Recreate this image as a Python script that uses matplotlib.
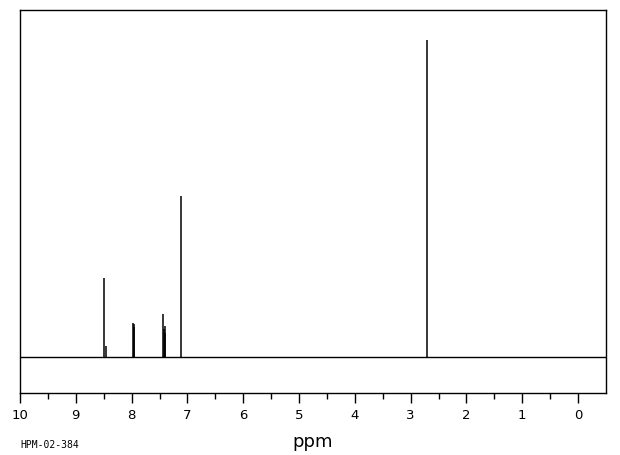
import numpy as np
import matplotlib.pyplot as plt

# peak positions (ppm) and heights (arbitrary units, baseline = 0)
shifts = [8.49, 8.46, 7.975, 7.965, 7.955, 7.43, 7.42, 7.405, 7.395, 7.11, 2.71]
heights = [79, 11, 34, 33, 30, 43, 28, 31, 24, 161, 317]

ticks = [10, 9, 8, 7, 6, 5, 4, 3, 2, 1, 0]
minor = [9.5, 8.5, 7.5, 6.5, 5.5, 4.5, 3.5, 2.5, 1.5, 0.5]

fig = plt.figure(figsize=(6.2, 4.55), dpi=100)
ax = fig.add_axes([20 / 620, 62 / 455, 586 / 620, 383 / 455])

ax.axhline(0, color='black', lw=1)
ax.vlines(shifts, 0, heights, color='black', lw=1.1)

ax.set_xlim(10, -0.5)
ax.set_ylim(-36, 347)
ax.set_yticks([])
ax.set_xticks(ticks)
ax.set_xticks(minor, minor=True)
ax.set_xticklabels([str(t) for t in ticks], fontsize=9.5)
ax.tick_params(axis='x', which='major', direction='out', length=7.2, width=1, pad=4.5)
ax.tick_params(axis='x', which='minor', direction='out', length=4.3, width=1)
for s in ax.spines.values():
    s.set_linewidth(1)

fig.text(313 / 620, 1 - 447 / 455, 'ppm', fontsize=13, ha='center', va='baseline')
fig.text(20 / 620, 1 - 445 / 455, 'HPM-02-384', fontsize=7, family='DejaVu Sans Mono',
         va='center', ha='left')

fig.savefig('out.png', dpi=100)
